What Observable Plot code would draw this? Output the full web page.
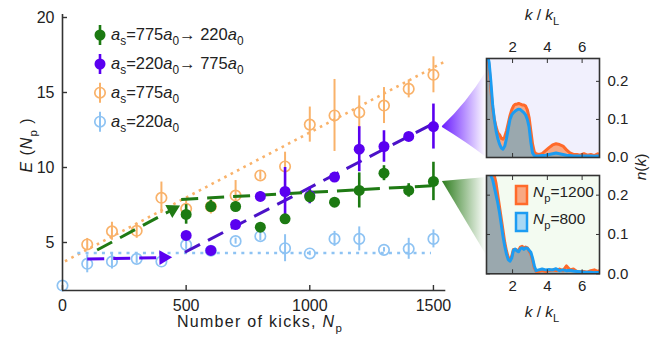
<!DOCTYPE html>
<html><head><meta charset="utf-8">
<script src="https://cdn.jsdelivr.net/npm/d3@7"></script>
<script src="https://cdn.jsdelivr.net/npm/@observablehq/plot@0.6"></script>
<style>
body{margin:0;background:#fff}
#wrap{position:relative;width:652px;height:339px;overflow:hidden}
#wrap svg{position:absolute;left:0;top:0}
</style></head><body><div id="wrap"></div>
<script>
// ---------- data ----------
const xTicks = [0, 500, 1000, 1500];
const yTicks = [5, 10, 15, 20];
const nOpen = [100,200,300,400,500,600,700,800,900,1000,1100,1200,1300,1400,1500];
const e775  = [4.87,5.75,5.78,7.98,7.25,7.4,8.13,9.47,10.07,12.86,13.47,13.67,14.13,15.24,16.18];
const err775= [0.4,0.6,0.5,1.05,0.6,0.5,1.0,0.3,0.95,1.17,2.4,1.1,1.2,0.6,1.2];
const n220  = [0,100,200,300,400,500,600,700,800,900,1000,1100,1200,1300,1400,1500];
const e220  = [2.13,3.58,3.73,3.91,3.73,4.84,4.45,5.09,5.42,4.62,4.27,5.24,5.24,4.51,4.58,5.24];
const err220= [0,0.6,0.5,0.3,0.15,0.3,0.3,0.2,0.3,0.9,0.15,0.5,0.8,0.15,0.7,0.6];
const nSwitch = [500,600,700,800,900,1000,1100,1200,1300,1400,1500];
const eGreen  = [6.87,7.4,7.4,6.02,6.58,8.05,7.69,8.47,9.62,8.47,9.07];
const errGreen= [0.65,0.4,0.3,0.2,0.2,0.4,0.2,1.17,0.5,0.45,1.28];
const ePurple = [5.47,4.47,6.2,8.07,8.4,8.13,9.36,11.22,11.4,12.07,12.73];
const errPurple=[0.2,0.2,0.2,0.3,1.6,0.55,0.2,1.5,1.05,0.2,1.5];
// fitted guide lines
const fit775N = [10,1550],  fit775E = [3.75,17.1];
const fit220N = [60,1490],  fit220E = [4.3,4.3];
const greenN1 = [140,445],  greenE1 = [4.5,7.2];
const greenN2 = [480,1510], greenE2 = [7.87,8.8];
const purpleN1 = [100,409], purpleE1 = [3.9,4.0];
const purpleN2 = [495,1520],purpleE2 = [4.35,13.1];
// insets: momentum distributions n(k) vs k/kL
const kGrid = [0.55,0.65,0.75,0.85,0.95,1.05,1.15,1.25,1.35,1.45,1.55,1.65,1.75,1.85,1.95,2.05,2.15,2.25,2.35,2.45,2.55,2.65,2.75,2.85,2.95,3.05,3.15,3.25,3.35,3.5,3.7,3.9,4.1,4.3,4.5,4.7,4.9,5.1,5.3,5.5,5.7,5.9,6.1,6.3,6.5,6.7,6.9,7.0];
const topN800  = [0.27,0.25,0.20,0.14,0.10,0.07,0.05,0.035,0.025,0.022,0.03,0.05,0.075,0.10,0.112,0.118,0.122,0.125,0.127,0.126,0.122,0.118,0.112,0.10,0.08,0.04,0.012,0.005,0.004,0.004,0.005,0.006,0.008,0.01,0.012,0.01,0.008,0.006,0.005,0.004,0.004,0.004,0.004,0.004,0.004,0.003,0.004,0.004];
const topN1200 = [0.27,0.24,0.18,0.13,0.10,0.08,0.065,0.06,0.05,0.048,0.055,0.07,0.09,0.11,0.125,0.135,0.14,0.14,0.142,0.14,0.138,0.138,0.135,0.125,0.105,0.07,0.035,0.015,0.01,0.008,0.01,0.018,0.026,0.033,0.036,0.034,0.03,0.02,0.012,0.008,0.008,0.006,0.01,0.006,0.008,0.005,0.01,0.006];
const botN800  = [0.27,0.26,0.25,0.24,0.22,0.2,0.18,0.155,0.125,0.095,0.07,0.05,0.036,0.032,0.04,0.06,0.063,0.058,0.056,0.064,0.066,0.062,0.066,0.065,0.06,0.055,0.04,0.02,0.008,0.01,0.012,0.01,0.011,0.01,0.013,0.008,0.01,0.008,0.009,0.007,0.006,0.005,0.004,0.004,0.004,0.003,0.003,0.003];
const botN1200 = [0.27,0.27,0.26,0.255,0.25,0.23,0.2,0.17,0.14,0.11,0.08,0.058,0.042,0.036,0.045,0.062,0.062,0.06,0.06,0.068,0.07,0.066,0.068,0.066,0.058,0.05,0.035,0.015,0.006,0.006,0.008,0.006,0.008,0.01,0.008,0.012,0.008,0.02,0.01,0.012,0.006,0.005,0.006,0.004,0.008,0.01,0.006,0.008];
const insetXTicks = [2,4,6];
const insetYTicks = [0,0.1,0.2];

// ---------- styles ----------
const FONT = "Liberation Sans, Arial, sans-serif";
const ORANGE = "#f9b26a", BLUE = "#8ec3f3", GREEN = "#1c7a12", PURPLE = "#5a00f0";
const GREEN_LINE = "#1f7a14", PURPLE_LINE = "#4b12c8";
const AX = "#333";

const rows = (xs, ys, es) => xs.map((x, i) => ({x, y: ys[i], e: es ? es[i] : 0}));
const seg = (xs, ys) => xs.map((x, i) => ({x, y: ys[i]}));

const W = 652, H = 339;
const mL = 62, mR = 206.7, mT = 14, mB = 49;
const xDom = [0, 1550], yDom = [1.8, 20.2];
const pxPerX = (W - mL - mR) / (xDom[1] - xDom[0]);
const pxPerY = (H - mT - mB) / (yDom[1] - yDom[0]);
const angleDeg = (xs, ys) => Math.atan2((ys[1]-ys[0])*pxPerY, (xs[1]-xs[0])*pxPerX) * 180 / Math.PI;
const greenRot = 90 - angleDeg(greenN1, greenE1);
const purpleRot = 90 - angleDeg(purpleN1, purpleE1);

const o775 = rows(nOpen, e775, err775), o220 = rows(n220, e220, err220);
const gSw = rows(nSwitch, eGreen, errGreen), pSw = rows(nSwitch, ePurple, errPurple);
const errRule = (data, stroke, w) => Plot.ruleX(data, {x: "x", y1: d => d.y - d.e, y2: d => d.y + d.e, stroke, strokeWidth: w});
const dashed = (xs, ys, stroke, width, dash) => Plot.line(seg(xs, ys), {x: "x", y: "y", stroke, strokeWidth: width, strokeDasharray: dash, strokeLinecap: "butt"});

const main = Plot.plot({
  width: W, height: H, marginLeft: mL, marginRight: mR, marginTop: mT, marginBottom: mB,
  x: {domain: xDom}, y: {domain: yDom},
  style: {fontFamily: FONT, fontSize: "16px", color: "#222", background: "transparent", overflow: "visible"},
  marks: [
    dashed(fit775N, fit775E, ORANGE, 2.6, "2.6,4.6"),
    dashed(fit220N, fit220E, BLUE, 2.6, "3,5.2"),
    errRule(o775, ORANGE, 2),
    Plot.dot(o775, {x: "x", y: "y", r: 5.2, stroke: ORANGE, strokeWidth: 1.7, fill: "none"}),
    errRule(o220, BLUE, 2),
    Plot.dot(o220, {x: "x", y: "y", r: 5.2, stroke: BLUE, strokeWidth: 1.7, fill: "none"}),
    dashed(purpleN1, purpleE1, PURPLE, 3, "17,9"),
    Plot.dot([{x: purpleN1[1], y: purpleE1[1]}], {x: "x", y: "y", symbol: "triangle", r: 5.5, fill: PURPLE, rotate: purpleRot}),
    dashed(purpleN2, purpleE2, PURPLE_LINE, 3, "17,9"),
    dashed(greenN1, greenE1, GREEN_LINE, 3, "17,9"),
    Plot.dot([{x: greenN1[1], y: greenE1[1]}], {x: "x", y: "y", symbol: "triangle", r: 5.5, fill: GREEN_LINE, rotate: greenRot}),
    dashed(greenN2, greenE2, GREEN_LINE, 3, "17,9"),
    errRule(pSw, PURPLE, 2.6),
    Plot.dot(pSw, {x: "x", y: "y", r: 5.5, fill: PURPLE}),
    errRule(gSw, GREEN, 2.6),
    Plot.dot(gSw, {x: "x", y: "y", r: 5.5, fill: GREEN}),
    Plot.ruleX([xDom[0]], {stroke: AX, strokeWidth: 1.6}),
    Plot.ruleY([yDom[0]], {stroke: AX, strokeWidth: 1.6}),
    Plot.axisX({ticks: xTicks, tickSize: -5, tickPadding: 14, tickFormat: d3.format("d"), label: null, stroke: AX, strokeWidth: 1.4}),
    Plot.axisY({ticks: yTicks, tickSize: -5, tickPadding: 13, tickFormat: d3.format("d"), label: null, stroke: AX, strokeWidth: 1.4})
  ]
});

function inset({n800, n1200, bg, marginTop, marginBottom, yDomain, labelsTop}) {
  const a = seg(kGrid, n1200), b = seg(kGrid, n800);
  return Plot.plot({
    width: W, height: H, marginLeft: 486, marginRight: 53, marginTop, marginBottom,
    x: {domain: [0.5, 7]}, y: {domain: yDomain},
    style: {fontFamily: FONT, fontSize: "15px", color: "#222", background: "transparent", overflow: "visible"},
    marks: [
      Plot.frame({fill: bg}),
      Plot.areaY(a, {x: "x", y: "y", fill: "#f8a883", clip: true}),
      Plot.areaY(b, {x: "x", y: "y", fill: "#9aa8ae", clip: true}),
      Plot.line(a, {x: "x", y: "y", stroke: "#ff6a2b", strokeWidth: 3, clip: true}),
      Plot.line(b, {x: "x", y: "y", stroke: "#1c9cf2", strokeWidth: 3, clip: true}),
      Plot.frame({stroke: AX, strokeWidth: 1.6}),
      Plot.axisX({anchor: labelsTop ? "top" : "bottom", ticks: insetXTicks, tickSize: -4, tickPadding: 11, tickFormat: d3.format("d"), label: null, stroke: AX}),
      Plot.axisX({anchor: labelsTop ? "bottom" : "top", ticks: insetXTicks, tickSize: -4, tickFormat: () => "", label: null, stroke: AX}),
      Plot.axisY({anchor: "right", ticks: insetYTicks, tickSize: -4, tickPadding: 12, tickFormat: d3.format(".1f"), label: null, stroke: AX}),
      Plot.axisY({anchor: "left", ticks: insetYTicks, tickSize: -4, tickFormat: () => "", label: null, stroke: AX})
    ]
  });
}
const topInset = inset({n800: topN800, n1200: topN1200, bg: "#f1f0fd", marginTop: 58, marginBottom: 182, yDomain: [0, 0.26], labelsTop: true});
const botInset = inset({n800: botN800, n1200: botN1200, bg: "#f3fbf1", marginTop: 175, marginBottom: 65.7, yDomain: [0, 0.25], labelsTop: false});

const wrap = document.getElementById("wrap");
wrap.append(main);

// ---------- decorations (text, legend, cones) ----------
function richText(svg, {x, y, parts, size = 15, anchor = "start", rotate = 0, spacing = 0, fill = "#222"}) {
  const t = d3.select(svg).append("text")
    .attr("transform", `translate(${x},${y}) rotate(${rotate})`)
    .attr("text-anchor", anchor).attr("font-family", FONT).attr("font-size", size)
    .attr("fill", fill).attr("letter-spacing", spacing);
  let shift = 0;
  for (const [s, st] of parts) {
    const ts = t.append("tspan").text(s);
    const want = st === "sub" ? size * 0.32 : 0;
    if (want !== shift) { ts.attr("dy", want - shift); shift = want; }
    if (st === "sub") ts.attr("font-size", size * 0.72);
    if (st === "i") ts.attr("font-style", "italic");
  }
  return t;
}

const sx = main.scale("x"), sy = main.scale("y");
const ms = d3.select(main);

// cones from last points to insets
const defs = ms.append("defs");
function grad(id, color) {
  const g = defs.append("linearGradient").attr("id", id).attr("x1", 0).attr("x2", 1).attr("y1", 0).attr("y2", 0);
  g.append("stop").attr("offset", 0).attr("stop-color", color).attr("stop-opacity", 1);
  g.append("stop").attr("offset", 1).attr("stop-color", color).attr("stop-opacity", 0);
}
grad("gP", "#6a1cff"); grad("gG", "#2e7d1e");
const tx = sx.apply(1500) + 9;
const tyP = sy.apply(ePurple[ePurple.length - 1]), tyG = sy.apply(eGreen[eGreen.length - 1]);
const topSx = topInset.scale("x"), topSy = topInset.scale("y");
const botSx = botInset.scale("x"), botSy = botInset.scale("y");
const ex = topSx.apply(0.5);
ms.insert("path", ":first-child")
  .attr("d", `M${tx},${tyP} Q${ex - 20},${topSy.apply(0.14)} ${ex},${topSy.apply(0.225)} L${ex},${topSy.apply(0)} Q${ex - 20},${topSy.apply(0.04)} ${tx},${tyP + 1}Z`)
  .attr("fill", "url(#gP)");
ms.insert("path", ":first-child")
  .attr("d", `M${tx},${tyG} L${ex},${botSy.apply(0.245)} L${ex},${botSy.apply(0.047)} Z`)
  .attr("fill", "url(#gG)");

// legend
const legend = [
  {c: GREEN, filled: true, y: 35, parts: [["a","i"],["s","sub"],["=775"],["a","i"],["0","sub"],["\u2192 220"],["a","i"],["0","sub"]]},
  {c: PURPLE, filled: true, y: 64, parts: [["a","i"],["s","sub"],["=220"],["a","i"],["0","sub"],["\u2192 775"],["a","i"],["0","sub"]]},
  {c: ORANGE, filled: false, y: 92.7, parts: [["a","i"],["s","sub"],["=775"],["a","i"],["0","sub"]]},
  {c: BLUE, filled: false, y: 121.7, parts: [["a","i"],["s","sub"],["=220"],["a","i"],["0","sub"]]}
];
for (const L of legend) {
  ms.append("line").attr("x1", 100).attr("x2", 100).attr("y1", L.y - 10).attr("y2", L.y + 10)
    .attr("stroke", L.c).attr("stroke-width", L.filled ? 2.6 : 2);
  ms.append("circle").attr("cx", 100).attr("cy", L.y).attr("r", L.filled ? 5.5 : 5.2)
    .attr("fill", L.filled ? L.c : "none").attr("stroke", L.filled ? "none" : L.c).attr("stroke-width", 1.7);
  richText(main, {x: 111, y: L.y + 5, parts: L.parts, size: 16.5});
}

// axis titles
richText(main, {x: 260, y: 327, anchor: "middle", size: 16, spacing: 1.3,
  parts: [["Number of kicks, "],["N","i"],["p","sub"]]});
richText(main, {x: 32, y: 145, anchor: "middle", size: 16, rotate: -90, spacing: 1,
  parts: [["E","i"],[" ("],["N","i"],["p","sub"],[" )"]]});

wrap.append(topInset);
wrap.append(botInset);
richText(topInset, {x: 542, y: 20, anchor: "middle", size: 15.5, parts: [["k","i"],[" / "],["k","i"],["L","sub"]]});
richText(botInset, {x: 542, y: 317, anchor: "middle", size: 15.5, parts: [["k","i"],[" / "],["k","i"],["L","sub"]]});
richText(botInset, {x: 646, y: 167, anchor: "middle", size: 15.5, rotate: -90, parts: [["n","i"],["("],["k","i"],[")"]]});

// inset legend
const bs = d3.select(botInset);
const insetLegend = [
  {y: 186, stroke: "#ff6a2b", fill: "#f8a883", parts: [["N","i"],["p","sub"],["=1200"]], ty: 197},
  {y: 213, stroke: "#1c9cf2", fill: "#a8d8f4", parts: [["N","i"],["p","sub"],["=800"]], ty: 224}
];
for (const L of insetLegend) {
  bs.append("rect").attr("x", 516).attr("y", L.y).attr("width", 11).attr("height", 18)
    .attr("fill", L.fill).attr("stroke", L.stroke).attr("stroke-width", 2.5);
  richText(botInset, {x: 533, y: L.ty, parts: L.parts, size: 15.5});
}
</script></body></html>
